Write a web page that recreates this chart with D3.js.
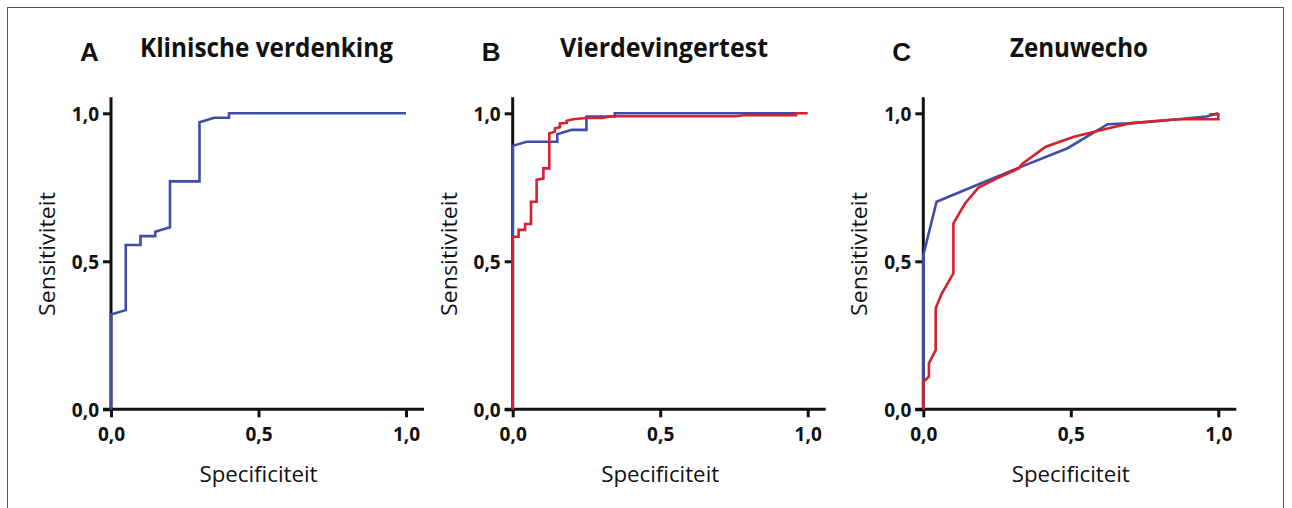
<!DOCTYPE html>
<html>
<head>
<meta charset="utf-8">
<script src="https://cdn.jsdelivr.net/npm/d3@7"></script>
<style>
  body { margin: 0; background: #fff; }
  text { fill: #111; }
  .tick-label { font-family: "Open Sans", sans-serif; font-weight: 700; font-size: 19px; }
  .axis-title { font-family: "Open Sans", sans-serif; font-size: 21px; }
  .panel-title { font-family: "Open Sans", sans-serif; font-weight: 700; font-size: 27px; }
  .panel-letter { font-family: "Liberation Sans", Arial, sans-serif; font-weight: 700; font-size: 26px; }
</style>
</head>
<body>
<div id="wrapper"></div>
<script>

// 1. Data

const panelLetters = ["A", "B", "C"]
const panelTitles = ["Klinische verdenking", "Vierdevingertest", "Zenuwecho"]
const tickValues = [0, 0.5, 1]
const tickLabels = ["0,0", "0,5", "1,0"]
const xLabel = "Specificiteit"
const yLabel = "Sensitiviteit"

// A - klinische verdenking (blue)
const klinischeX = [0, 0, 0.05, 0.05, 0.1, 0.1, 0.15, 0.15, 0.2, 0.2, 0.3, 0.3, 0.35, 0.4, 0.4, 1]
const klinischeY = [0, 0.32, 0.335, 0.555, 0.555, 0.585, 0.585, 0.6, 0.615, 0.77, 0.77, 0.97, 0.985, 0.985, 1, 1]

// B - vierdevingertest (blue + red)
const vierBlueX = [0, 0, 0.047, 0.151, 0.151, 0.2, 0.25, 0.25, 0.346, 0.346, 0.96]
const vierBlueY = [0, 0.89, 0.904, 0.904, 0.929, 0.944, 0.944, 0.989, 0.989, 1, 1]
const vierRedX = [0, 0, 0.02, 0.02, 0.042, 0.042, 0.062, 0.062, 0.081, 0.081, 0.104, 0.104, 0.124, 0.124,
    0.143, 0.143, 0.16, 0.16, 0.183, 0.183, 0.205, 0.25, 0.306, 0.329, 0.758, 0.79, 0.96, 0.96, 1]
const vierRedY = [0, 0.583, 0.583, 0.606, 0.606, 0.626, 0.626, 0.701, 0.701, 0.775, 0.78, 0.814, 0.814, 0.932,
    0.938, 0.949, 0.953, 0.966, 0.968, 0.975, 0.98, 0.984, 0.984, 0.99, 0.99, 0.994, 0.994, 1, 1]

// C - zenuwecho (blue + red)
const echoBlueX = [0, 0, 0.045, 0.182, 0.318, 0.489, 0.625, 0.699, 0.864, 0.96, 1]
const echoBlueY = [0, 0.521, 0.701, 0.758, 0.814, 0.882, 0.963, 0.966, 0.98, 0.989, 1]
const echoRedX = [0, 0, 0.019, 0.019, 0.042, 0.042, 0.063, 0.102, 0.102, 0.142, 0.187, 0.25, 0.324, 0.335,
    0.415, 0.511, 0.625, 0.699, 0.864, 1, 1, 0.97]
const echoRedY = [0, 0.093, 0.11, 0.155, 0.2, 0.341, 0.392, 0.459, 0.628, 0.696, 0.749, 0.78, 0.814, 0.829,
    0.887, 0.921, 0.949, 0.966, 0.98, 0.98, 0.997, 0.997]

const blue = "#3e4ea6"
const red = "#d3222f"

const panelSeries = [
    [{x: klinischeX, y: klinischeY, color: blue}],
    [{x: vierBlueX, y: vierBlueY, color: blue}, {x: vierRedX, y: vierRedY, color: red}],
    [{x: echoBlueX, y: echoBlueY, color: blue}, {x: echoRedX, y: echoRedY, color: red}],
]

// 2. Dimensions

const dimensions = {
    width: 1292,
    height: 508,
    panelLefts: [111, 512.7, 923.3],
    plotWidth: 295,
    plotTop: 113.3,
    plotBottom: 409.3,
}

// 3. Canvas

const wrapper = d3.select("#wrapper")
    .append("svg")
    .attr("width", dimensions.width)
    .attr("height", dimensions.height)

wrapper.append("rect")
    .attr("x", 7.5)
    .attr("y", 7.5)
    .attr("width", 1276)
    .attr("height", 520)
    .attr("fill", "none")
    .attr("stroke", "#555")
    .attr("stroke-width", 1)

const yScale = d3.scaleLinear()
    .domain([0, 1])
    .range([dimensions.plotBottom, dimensions.plotTop])

panelSeries.forEach((series, i) => {
    const left = dimensions.panelLefts[i]
    const xScale = d3.scaleLinear()
        .domain([0, 1])
        .range([left, left + dimensions.plotWidth])

    const panel = wrapper.append("g")

    const lineGenerator = d3.line()
        .x(d => xScale(d[0]))
        .y(d => yScale(d[1]))

    // axes
    const xAxis = panel.append("g")
        .attr("transform", `translate(0,${yScale(0)})`)
        .call(d3.axisBottom(xScale)
            .tickValues(tickValues)
            .tickFormat((d, j) => tickLabels[j])
            .tickSize(8)
            .tickSizeOuter(0))
    const yAxis = panel.append("g")
        .attr("transform", `translate(${xScale(0)},0)`)
        .call(d3.axisLeft(yScale)
            .tickValues(tickValues)
            .tickFormat((d, j) => tickLabels[j])
            .tickSize(8)
            .tickSizeOuter(0))

    ;[xAxis, yAxis].forEach(ax => {
        ax.select(".domain").remove()
        ax.selectAll(".tick line").attr("stroke", "#111").attr("stroke-width", 3)
        ax.selectAll(".tick text")
            .attr("class", "tick-label")
            .attr("fill", "#111")
        ax.attr("font-size", null).attr("font-family", null)
    })
    xAxis.selectAll(".tick text").attr("dy", "1.05em").attr("y", 12)
    yAxis.selectAll(".tick text").attr("x", -12).attr("dy", "0.36em")

    // extended axis lines (Prism style)
    panel.append("line")
        .attr("x1", xScale(0) - 8)
        .attr("x2", xScale(1) + 18)
        .attr("y1", yScale(0))
        .attr("y2", yScale(0))
        .attr("stroke", "#111")
        .attr("stroke-width", 3)
    panel.append("line")
        .attr("x1", xScale(0))
        .attr("x2", xScale(0))
        .attr("y1", yScale(0))
        .attr("y2", yScale(1) - 16)
        .attr("stroke", "#111")
        .attr("stroke-width", 3)

    series.forEach(s => {
        const points = s.x.map((v, j) => [v, s.y[j]])
        panel.append("path")
            .attr("d", lineGenerator(points))
            .attr("fill", "none")
            .attr("stroke", s.color)
            .attr("stroke-width", 2.6)
            .attr("stroke-linejoin", "miter")
    })

    // labels
    panel.append("text")
        .attr("class", "axis-title")
        .attr("x", xScale(0.5))
        .attr("y", 482)
        .attr("text-anchor", "middle")
        .attr("textLength", 118)
        .attr("lengthAdjust", "spacingAndGlyphs")
        .text(xLabel)

    panel.append("text")
        .attr("class", "axis-title")
        .attr("transform", `translate(${left - 56},${254}) rotate(-90)`)
        .attr("text-anchor", "middle")
        .attr("textLength", 124)
        .attr("lengthAdjust", "spacingAndGlyphs")
        .text(yLabel)

    panel.append("text")
        .attr("class", "panel-letter")
        .attr("x", left - 31)
        .attr("y", 61)
        .text(panelLetters[i])
})

const titleStarts = [140, 560, 1010]
const titleWidths = [253, 208, 138]
panelTitles.forEach((t, i) => {
    wrapper.append("text")
        .attr("class", "panel-title")
        .attr("x", titleStarts[i])
        .attr("y", 57)
        .attr("textLength", titleWidths[i])
        .attr("lengthAdjust", "spacingAndGlyphs")
        .text(t)
})

</script>
</body>
</html>
